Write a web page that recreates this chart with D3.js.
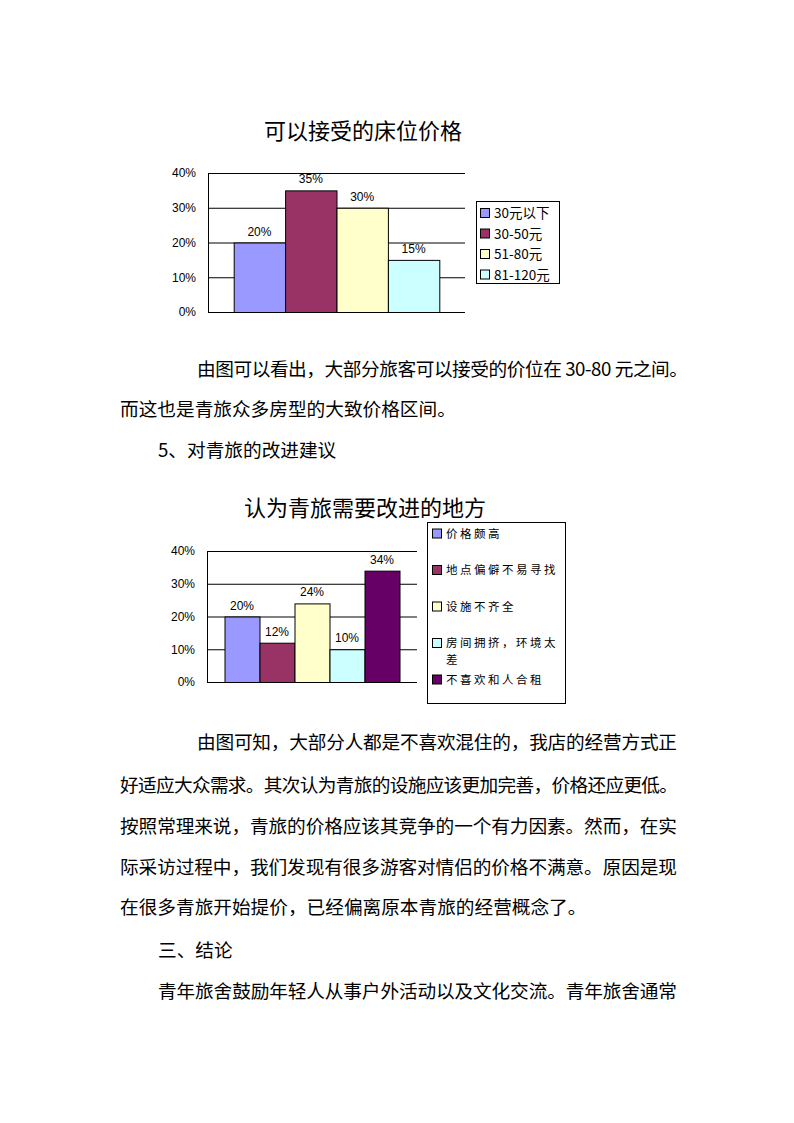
<!DOCTYPE html>
<html><head><meta charset="utf-8">
<script src="https://cdn.jsdelivr.net/npm/d3@7"></script>
<style>
html,body{margin:0;padding:0;background:#fff;}
svg{display:block;}
</style></head>
<body>
<svg id="page" width="794" height="1123"></svg>
<script>
// ---- data ----
const yTicks = [0, 10, 20, 30, 40];
const barColors = ["#9999FF", "#993366", "#FFFFCC", "#CCFFFF", "#660066"];

const chart1Title = "可以接受的床位价格";
const chart1Categories = ["30元以下", "30-50元", "51-80元", "81-120元"];
const chart1Values = [20, 35, 30, 15];

const chart2Title = "认为青旅需要改进的地方";
const chart2Categories = ["价格颇高", "地点偏僻不易寻找", "设施不齐全", "房间拥挤，环境太差", "不喜欢和人合租"];
const chart2LegendLines = [["价格颇高"], ["地点偏僻不易寻找"], ["设施不齐全"], ["房间拥挤，环境太", "差"], ["不喜欢和人合租"]];
const chart2Values = [20, 12, 24, 10, 34];

const bodyLines = [
  {t: "由图可以看出，大部分旅客可以接受的价位在 30-80 元之间。", x: 197, y: 369, w: 491},
  {t: "而这也是青旅众多房型的大致价格区间。", x: 120, y: 409},
  {t: "5、对青旅的改进建议", x: 158, y: 450},
  {t: "由图可知，大部分人都是不喜欢混住的，我店的经营方式正", x: 197, y: 742, w: 480},
  {t: "好适应大众需求。其次认为青旅的设施应该更加完善，价格还应更低。", x: 120, y: 785, w: 558},
  {t: "按照常理来说，青旅的价格应该其竞争的一个有力因素。然而，在实", x: 120, y: 826, w: 557},
  {t: "际采访过程中，我们发现有很多游客对情侣的价格不满意。原因是现", x: 120, y: 867, w: 557},
  {t: "在很多青旅开始提价，已经偏离原本青旅的经营概念了。", x: 120, y: 907},
  {t: "三、结论", x: 158, y: 950},
  {t: "青年旅舍鼓励年轻人从事户外活动以及文化交流。青年旅舍通常", x: 158, y: 991, w: 519}
];

const svg = d3.select("#page");
svg.append("rect").attr("width", 794).attr("height", 1123).attr("fill", "#fff");

const CJK = "'Noto Sans CJK SC', 'Noto Sans', sans-serif";
const NUM = "'Liberation Sans', 'Noto Sans CJK SC', sans-serif";

function drawChart(cfg) {
  const g = svg.append("g");
  const y = d3.scaleLinear().domain([0, 40]).range([cfg.bottom, cfg.top]);
  const x = d3.scaleBand().domain(cfg.categories).range([cfg.left, cfg.right]).paddingInner(0).paddingOuter(0.5);

  // title
  g.append("text").attr("x", cfg.titleX).attr("y", cfg.titleY + 0.38 * 22)
    .attr("text-anchor", "middle").attr("font-family", CJK).attr("font-size", 22)
    .attr("fill", "#000").text(cfg.title);

  // gridlines + axis
  const ax = g.append("g").attr("transform", `translate(${cfg.left},0)`)
    .call(d3.axisLeft(y).tickValues(yTicks).tickFormat(d => d + "%")
      .tickSize(-(cfg.right - cfg.left)).tickSizeOuter(0).tickPadding(12));
  ax.selectAll("line").attr("stroke", "#000").attr("stroke-width", 1);
  ax.select(".domain").attr("stroke", "#000");
  ax.selectAll("text").attr("font-family", NUM).attr("font-size", 12).attr("fill", "#000");

  // bars
  g.selectAll("rect.bar").data(cfg.values).join("rect").attr("class", "bar")
    .attr("x", (d, i) => x(cfg.categories[i]) + 0.5)
    .attr("y", d => y(d) + 0.5)
    .attr("width", x.bandwidth())
    .attr("height", d => cfg.bottom - y(d))
    .attr("fill", (d, i) => barColors[i]).attr("stroke", "#000").attr("stroke-width", 1);

  // labels
  g.selectAll("text.lbl").data(cfg.values).join("text").attr("class", "lbl")
    .attr("x", (d, i) => x(cfg.categories[i]) + x.bandwidth() / 2)
    .attr("y", d => y(d) - 7)
    .attr("text-anchor", "middle").attr("font-family", NUM).attr("font-size", 12)
    .attr("fill", "#000").text(d => d + "%");

  // legend
  const L = cfg.legend;
  g.append("rect").attr("x", L.x + 0.5).attr("y", L.y + 0.5).attr("width", L.w).attr("height", L.h)
    .attr("fill", "#fff").attr("stroke", "#000").attr("stroke-width", 1);
  cfg.legendLines.forEach((lines, i) => {
    const cy = L.firstY + i * L.step;
    g.append("rect").attr("x", L.sx + 0.5).attr("y", cy - 5 + 0.5).attr("width", 9).attr("height", 9)
      .attr("fill", barColors[i]).attr("stroke", "#000").attr("stroke-width", 1);
    const t = g.append("text").attr("font-family", CJK).attr("font-size", L.fs)
      .attr("letter-spacing", L.ls).attr("fill", "#000");
    lines.forEach((ln, j) => {
      t.append("tspan").attr("x", L.tx).attr("y", cy + j * L.lineH + 0.38 * L.fs).text(ln);
    });
  });
}

drawChart({
  title: chart1Title, titleX: 363, titleY: 131,
  categories: chart1Categories, values: chart1Values,
  left: 208, right: 465, top: 173, bottom: 312,
  legendLines: chart1Categories.map(c => [c]),
  legend: {x: 476, y: 201, w: 83, h: 82, sx: 480, tx: 494, firstY: 213, step: 20.5, fs: 13.5, ls: 0, lineH: 16}
});

drawChart({
  title: chart2Title, titleX: 365, titleY: 508,
  categories: chart2Categories, values: chart2Values,
  left: 207, right: 417, top: 551, bottom: 682,
  legendLines: chart2LegendLines,
  legend: {x: 427, y: 522, w: 138, h: 181, sx: 432, tx: 446, firstY: 533.5, step: 36.5, fs: 11.5, ls: 2.5, lineH: 17}
});

// body text
const fs = 18.67;
bodyLines.forEach(l => {
  const t = svg.append("text").attr("x", l.x).attr("y", l.y + 0.38 * fs)
    .attr("font-family", CJK).attr("font-size", fs).attr("fill", "#000").text(l.t);
  if (l.w) t.attr("textLength", l.w).attr("lengthAdjust", "spacing");
});
</script>
</body></html>
